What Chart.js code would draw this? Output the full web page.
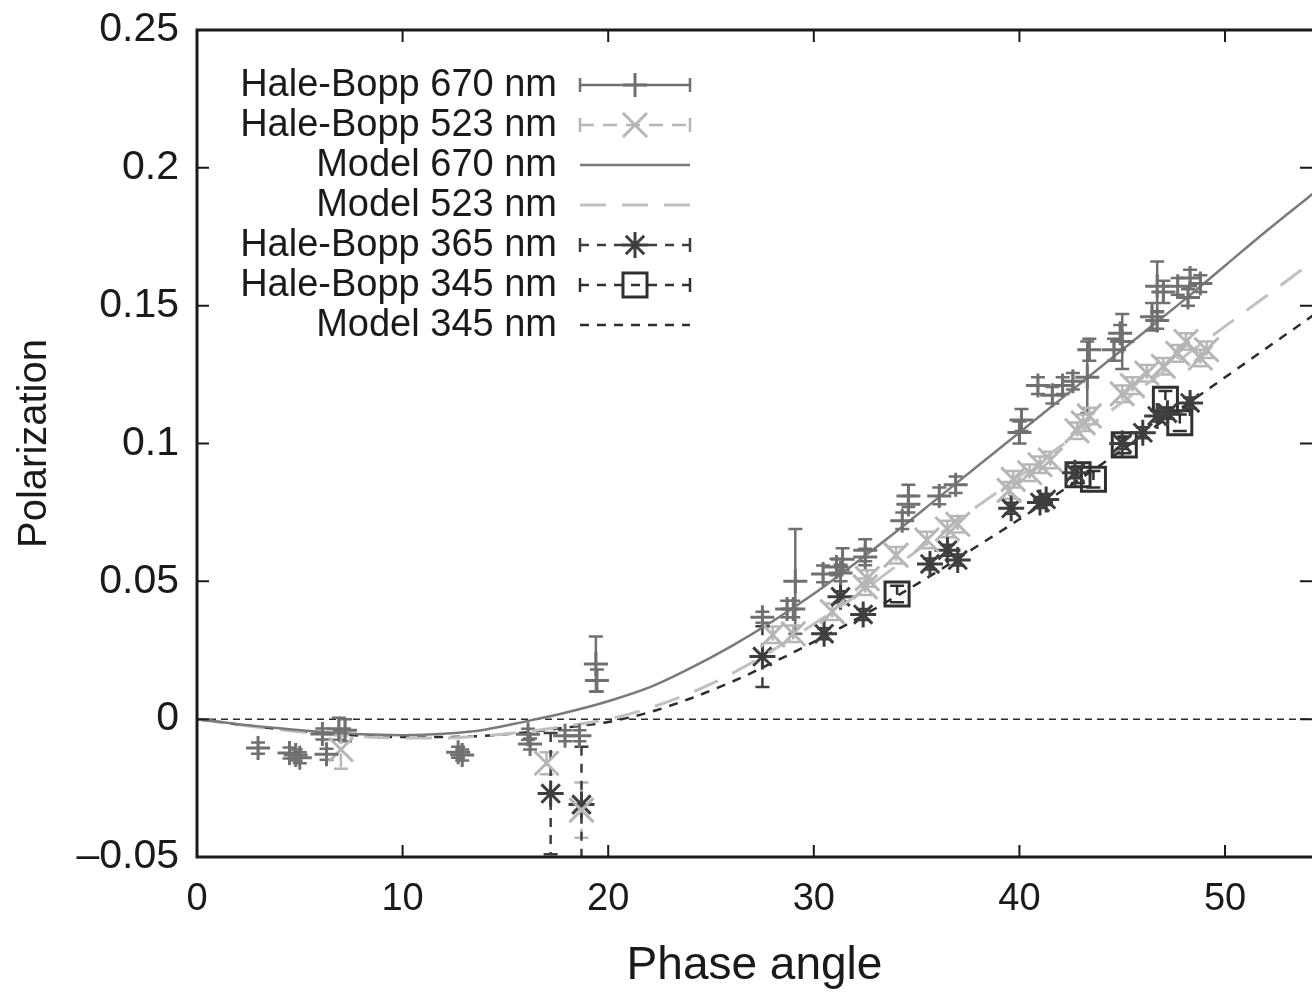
<!DOCTYPE html>
<html>
<head>
<meta charset="utf-8">
<title>Hale-Bopp polarization vs phase angle</title>
<script src="https://cdn.jsdelivr.net/npm/chart.js@4.4.1/dist/chart.umd.min.js"></script>
<style>
  html, body { margin: 0; padding: 0; background: #fff; overflow: hidden; }
  #wrap { width: 1312px; height: 994px; }
  canvas { display: block; }
</style>
</head>
<body>
<div id="wrap"><canvas id="chart" width="1312" height="994"></canvas></div>
<script>
// values (phase angle in degrees, polarization as fraction)
let hb670Angle = [2.97, 4.5, 4.8, 5.0, 6.1, 6.3, 6.9, 7.2, 12.7, 12.9, 16.1, 16.2, 17.9, 18.6, 19.4, 19.45,
    27.5, 28.7, 29.0, 29.1, 30.45, 31.1, 31.3, 31.4, 32.5, 32.5, 34.3, 34.6, 34.6, 36.1, 36.9,
    40.0, 40.1, 40.9, 41.6, 42.1, 42.6, 43.3, 43.4, 44.6, 44.9, 45.0, 46.45, 46.7, 46.7, 47.0, 47.7, 48.2, 48.3, 48.8]
let hb670Pol = [-0.0105, -0.0123, -0.013, -0.014, -0.0054, -0.0127, -0.0035, -0.004, -0.012, -0.013, -0.0055, -0.009, -0.006, -0.006, 0.020, 0.014,
    0.037, 0.040, 0.040, 0.050, 0.0527, 0.0552, 0.053, 0.058, 0.0613, 0.0588, 0.072, 0.078, 0.081, 0.081, 0.085,
    0.104, 0.1085, 0.121, 0.1175, 0.121, 0.1226, 0.124, 0.134, 0.134, 0.140, 0.137, 0.146, 0.1446, 0.157, 0.155, 0.157, 0.153, 0.160, 0.158]
let hb670Err = [0.002, 0.002, 0.002, 0.002, 0.002, 0.002, 0.004, 0.004, 0.002, 0.002, 0.002, 0.002, 0.002, 0.002, 0.010, 0.004,
    0.002, 0.003, 0.003, 0.019, 0.003, 0.003, 0.003, 0.004, 0.004, 0.003, 0.003, 0.003, 0.004, 0.003, 0.003,
    0.004, 0.004, 0.003, 0.003, 0.003, 0.003, 0.013, 0.004, 0.004, 0.003, 0.010, 0.005, 0.003, 0.009, 0.004, 0.003, 0.003, 0.003, 0.003]

let hb523Angle = [7.0, 17.0, 18.7, 28.0, 29.0, 30.9, 32.5, 32.6, 34.0, 35.5, 36.5, 37.0, 39.5, 39.7, 40.5, 41.0, 41.5,
    42.8, 43.1, 43.4, 45.0, 45.5, 46.2, 47.0, 47.7, 48.1, 48.8, 49.1]
let hb523Pol = [-0.011, -0.016, -0.033, 0.0306, 0.031, 0.039, 0.048, 0.051, 0.0595, 0.065, 0.069, 0.0707, 0.083, 0.087, 0.0894, 0.0923, 0.094,
    0.1046, 0.1075, 0.110, 0.118, 0.121, 0.1255, 0.128, 0.1327, 0.137, 0.131, 0.134]
let hb523Err = [0.007, 0.004, 0.010, 0.003, 0.003, 0.003, 0.003, 0.003, 0.003, 0.003, 0.003, 0.003, 0.003, 0.003, 0.003, 0.003, 0.003,
    0.003, 0.003, 0.003, 0.003, 0.003, 0.003, 0.003, 0.003, 0.003, 0.003, 0.003]

let hb365Angle = [17.2, 18.7, 27.5, 30.5, 31.3, 32.4, 35.65, 36.5, 37.0, 39.6, 41.0, 41.3, 42.7, 45.0, 46.0, 46.7, 47.2, 48.3]
let hb365Pol = [-0.027, -0.031, 0.0227, 0.031, 0.0444, 0.038, 0.0563, 0.0613, 0.0577, 0.0765, 0.0786, 0.0797, 0.0894, 0.100, 0.1039, 0.110, 0.111, 0.1147]
let hb365Err = [0.022, 0.021, 0.011, 0.002, 0.002, 0.002, 0.002, 0.002, 0.002, 0.002, 0.002, 0.002, 0.002, 0.002, 0.002, 0.002, 0.002, 0.002]

let hb345Angle = [34.05, 42.85, 43.6, 45.1, 47.1, 47.8]
let hb345Pol = [0.0454, 0.0887, 0.087, 0.0995, 0.116, 0.1075]
let hb345Err = [0.003, 0.003, 0.003, 0.003, 0.003, 0.003]

let modelAngle = [0, 2, 4, 6, 8, 10, 12, 14, 16, 18, 20, 22, 24, 26, 28, 30, 32, 34, 36, 38, 40, 42, 44, 46, 48, 50, 52, 54, 56]
let model670 = [0, -0.0018, -0.0033, -0.0046, -0.0055, -0.0058, -0.0053, -0.0038, -0.0008, 0.0025, 0.0065, 0.0115, 0.0185, 0.0265, 0.0355,
    0.0455, 0.0565, 0.068, 0.080, 0.092, 0.104, 0.116, 0.128, 0.140, 0.152, 0.1645, 0.177, 0.189, 0.2005]
let model523 = [0, -0.002, -0.0038, -0.0053, -0.0063, -0.0068, -0.0068, -0.006, -0.0045, -0.0025, 0.0, 0.004, 0.0095, 0.0165, 0.025,
    0.0345, 0.0445, 0.0555, 0.0665, 0.0775, 0.088, 0.099, 0.1095, 0.1205, 0.1315, 0.1425, 0.1535, 0.1645, 0.1755]
let model345 = [0, -0.0019, -0.0036, -0.005, -0.006, -0.0065, -0.0065, -0.006, -0.0048, -0.003, -0.001, 0.0025, 0.0075, 0.0135, 0.0205,
    0.028, 0.036, 0.0445, 0.0535, 0.063, 0.0725, 0.0825, 0.0925, 0.103, 0.1135, 0.124, 0.1345, 0.145, 0.1555]

let xTicks = [0, 10, 20, 30, 40, 50]
let yTicks = [-0.05, 0, 0.05, 0.1, 0.15, 0.2, 0.25]

const FONT = "'Liberation Sans', Arial, Helvetica, sans-serif";
const TEXT = '#1a1a1a';

function pts(xs, ys) {
    return xs.map((v, i) => ({x: v, y: ys[i]}));
}

function fmtY(v) {
    let s = String(parseFloat(v.toFixed(2)));
    return s.replace('-', '\u2013');
}

function drawMarker(ctx, style, x, y, r) {
    let d = r * Math.SQRT1_2;
    ctx.beginPath();
    if (style === 'cross' || style === 'star') {
        ctx.moveTo(x - r, y); ctx.lineTo(x + r, y);
        ctx.moveTo(x, y - r); ctx.lineTo(x, y + r);
    }
    if (style === 'crossRot' || style === 'star') {
        ctx.moveTo(x - d, y - d); ctx.lineTo(x + d, y + d);
        ctx.moveTo(x - d, y + d); ctx.lineTo(x + d, y - d);
    }
    if (style === 'rect') {
        ctx.rect(x - d, y - d, 2 * d, 2 * d);
    }
    ctx.stroke();
}

// no extra room for tick labels overflowing the plot edges
function noPad(s) {
    s.paddingLeft = 0;
    s.paddingRight = 0;
    s.paddingTop = 0;
    s.paddingBottom = 0;
}

// error bars + the dashed zero line, drawn under the markers
const errorBars = {
    id: 'errorBars',
    beforeDatasetsDraw(chart) {
        const {ctx, chartArea, scales} = chart;
        ctx.save();
        ctx.beginPath();
        ctx.rect(chartArea.left, chartArea.top, chartArea.width, chartArea.height);
        ctx.clip();

        let y0 = scales.y.getPixelForValue(0);
        ctx.strokeStyle = '#2a2a2a';
        ctx.lineWidth = 1.5;
        ctx.setLineDash([7, 5]);
        ctx.beginPath();
        ctx.moveTo(chartArea.left, y0);
        ctx.lineTo(chartArea.right, y0);
        ctx.stroke();

        chart.data.datasets.forEach(ds => {
            if (!ds.errors) return;
            ctx.strokeStyle = ds.borderColor;
            ctx.lineWidth = 2.5;
            ds.data.forEach((p, i) => {
                let e = ds.errors[i];
                let px = scales.x.getPixelForValue(p.x);
                let top = scales.y.getPixelForValue(p.y + e);
                let bot = scales.y.getPixelForValue(p.y - e);
                ctx.setLineDash(ds.errDash);
                ctx.beginPath();
                ctx.moveTo(px, top); ctx.lineTo(px, bot);
                ctx.stroke();
                ctx.setLineDash([]);
                ctx.beginPath();
                ctx.moveTo(px - 7, top); ctx.lineTo(px + 7, top);
                ctx.moveTo(px - 7, bot); ctx.lineTo(px + 7, bot);
                ctx.stroke();
            });
        });
        ctx.restore();
    }
};

// gnuplot style frame with inward ticks, and the key in the upper left
const frameAndKey = {
    id: 'frameAndKey',
    afterDraw(chart) {
        const {ctx, chartArea, scales} = chart;
        const {left, right, top, bottom} = chartArea;
        ctx.save();
        ctx.strokeStyle = '#1a1a1a';
        ctx.lineWidth = 3;
        ctx.setLineDash([]);
        ctx.beginPath();
        ctx.moveTo(right + 2, top); ctx.lineTo(left, top);
        ctx.lineTo(left, bottom); ctx.lineTo(right + 2, bottom);
        ctx.stroke();

        ctx.lineWidth = 2;
        ctx.beginPath();
        xTicks.forEach(v => {
            let px = scales.x.getPixelForValue(v);
            ctx.moveTo(px, bottom); ctx.lineTo(px, bottom - 12);
            ctx.moveTo(px, top); ctx.lineTo(px, top + 12);
        });
        yTicks.forEach(v => {
            let py = scales.y.getPixelForValue(v);
            ctx.moveTo(left, py); ctx.lineTo(left + 12, py);
            ctx.moveTo(right, py); ctx.lineTo(right - 12, py);
        });
        ctx.stroke();

        // key
        let textRight = 557, x1 = 580, x2 = 690, xm = 635;
        ctx.font = '38px ' + FONT;
        ctx.textAlign = 'right';
        ctx.textBaseline = 'middle';
        chart.data.datasets.forEach((ds, i) => {
            let ry = 85 + i * 40;
            ctx.fillStyle = TEXT;
            ctx.fillText(ds.label, textRight, ry + 1);
            ctx.strokeStyle = ds.borderColor;
            if (ds.showLine) {
                ctx.lineWidth = ds.borderWidth;
                ctx.setLineDash(ds.borderDash || []);
                ctx.beginPath();
                ctx.moveTo(x1, ry); ctx.lineTo(x2, ry);
                ctx.stroke();
            } else {
                ctx.lineWidth = 2.5;
                ctx.setLineDash(ds.errDash);
                ctx.beginPath();
                ctx.moveTo(x1, ry); ctx.lineTo(x2, ry);
                ctx.stroke();
                ctx.setLineDash([]);
                ctx.beginPath();
                ctx.moveTo(x1, ry - 7); ctx.lineTo(x1, ry + 7);
                ctx.moveTo(x2, ry - 7); ctx.lineTo(x2, ry + 7);
                ctx.stroke();
                ctx.lineWidth = ds.pointBorderWidth;
                drawMarker(ctx, ds.pointStyle, xm, ry, ds.pointRadius);
            }
        });
        ctx.restore();
    }
};

function dataSet(label, xs, ys, errs, color, style, radius, dash) {
    return {
        label: label,
        data: pts(xs, ys),
        showLine: false,
        borderColor: color,
        pointBorderColor: color,
        pointBackgroundColor: 'rgba(0,0,0,0)',
        pointStyle: style,
        pointRadius: radius,
        pointBorderWidth: 3,
        errors: errs,
        errDash: dash
    };
}

function modelSet(label, ys, color, width, dash) {
    return {
        label: label,
        data: pts(modelAngle, ys),
        showLine: true,
        borderColor: color,
        borderWidth: width,
        borderDash: dash,
        pointRadius: 0,
        fill: false,
        tension: 0.4,
        cubicInterpolationMode: 'monotone'
    };
}

const datasets = [
    dataSet('Hale-Bopp 670 nm', hb670Angle, hb670Pol, hb670Err, 'rgb(112,112,112)', 'cross', 12, []),
    dataSet('Hale-Bopp 523 nm', hb523Angle, hb523Pol, hb523Err, 'rgb(182,182,182)', 'crossRot', 17, [14, 9]),
    modelSet('Model 670 nm', model670, 'rgb(122,122,122)', 2.5, []),
    modelSet('Model 523 nm', model523, 'rgb(192,192,192)', 3, [26, 16]),
    dataSet('Hale-Bopp 365 nm', hb365Angle, hb365Pol, hb365Err, 'rgb(62,62,62)', 'star', 13, [9, 8]),
    dataSet('Hale-Bopp 345 nm', hb345Angle, hb345Pol, hb345Err, 'rgb(48,48,48)', 'rect', 17, [9, 8]),
    modelSet('Model 345 nm', model345, 'rgb(45,45,45)', 2.5, [9, 8])
];

const ctx = document.getElementById('chart').getContext('2d');
let globalChart = new Chart(ctx, {
    type: 'scatter',
    data: {datasets},
    options: {
        responsive: false,
        animation: false,
        layout: {autoPadding: false, padding: {top: 30, right: 0, left: 0, bottom: 0}},
        plugins: {
            legend: {display: false},
            tooltip: {enabled: false}
        },
        scales: {
            x: {
                type: 'linear',
                min: 0,
                max: 54.23,
                afterBuildTicks: s => { s.ticks = xTicks.map(v => ({value: v})); },
                afterFit: s => { s.height = 137; noPad(s); },
                grid: {display: false, drawTicks: false},
                border: {display: false},
                ticks: {padding: 20, font: {size: 38, family: FONT}, color: TEXT},
                title: {display: true, text: 'Phase angle', font: {size: 46, family: FONT}, color: TEXT, padding: {top: 0, bottom: 0}}
            },
            y: {
                type: 'linear',
                min: -0.05,
                max: 0.25,
                afterBuildTicks: s => { s.ticks = yTicks.map(v => ({value: v})); },
                afterFit: s => { s.width = 197; noPad(s); },
                grid: {display: false, drawTicks: false},
                border: {display: false},
                ticks: {padding: 18, font: {size: 41, family: FONT}, color: TEXT, callback: v => fmtY(v)},
                title: {display: true, text: 'Polarization', font: {size: 40, family: FONT}, color: TEXT, padding: {top: 11, bottom: 0}}
            }
        }
    },
    plugins: [errorBars, frameAndKey]
});
</script>
</body>
</html>
